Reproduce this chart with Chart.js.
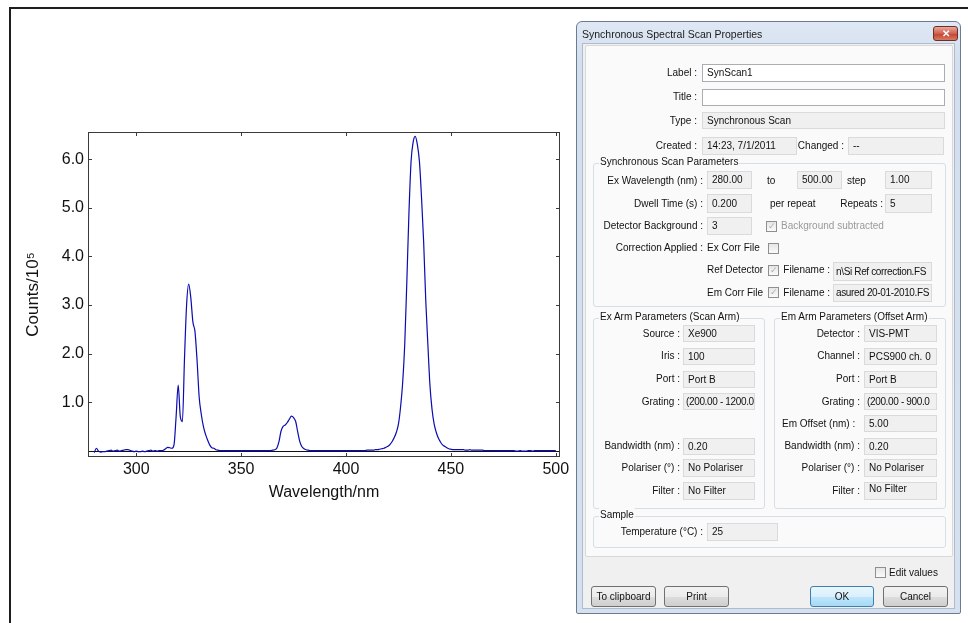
<!DOCTYPE html>
<html>
<head>
<meta charset="utf-8">
<title>Synchronous scan</title>
<script src="https://cdn.jsdelivr.net/npm/chart.js@4.4.1/dist/chart.umd.min.js"></script>
<style>
  body { margin: 0; width: 968px; height: 623px; overflow: hidden; position: relative; background: #fff;
         font-family: "Liberation Sans", Arial, sans-serif; }
  #frame { position: absolute; left: 9px; top: 7px; width: 960px; height: 640px;
           border-left: 2px solid #1e1e1e; border-top: 2px solid #1e1e1e; }
  #chartBox { position: absolute; left: 0; top: 0; width: 580px; height: 520px; }
  .dlg { position: absolute; left: 576px; top: 21px; width: 385px; height: 593px; box-sizing: border-box;
         background: linear-gradient(#dfe8f4, #d3dfee 40px, #d6e1ef); border: 1px solid #6c7c90;
         border-radius: 6px 6px 2px 2px; z-index: 2; }
  .ab { position: absolute; z-index: 3; white-space: nowrap; font-size: 10px; color: #111; }
  .txt { height: 14px; line-height: 14px; }
  .box { box-sizing: border-box; border: 1px solid #dadada; background: #f0f0f0; padding-left: 4px; overflow: hidden; }
  .edit { border-color: #abadb3; background: #fff; }
  .grp { box-sizing: border-box; border: 1px solid #d5dfe5; border-radius: 3px; }
  .grpT { background: #fafafa; padding: 0 1px; }
  .chk { box-sizing: border-box; width: 11px; height: 11px; border: 1px solid #8e8f8f;
         background: linear-gradient(#e6e6e6, #fafafa); font-size: 9px; line-height: 9px; text-align: center; color: #b0b0b0; }
  .btn { box-sizing: border-box; border: 1px solid #707070; border-radius: 3px; text-align: center;
         background: linear-gradient(#f2f2f2, #ebebeb 50%, #dddddd 51%, #cfcfcf); }
  .ok { border-color: #3c7fb1; background: linear-gradient(#eaf6fd, #d9f0fc 50%, #bee6fd 51%, #a7d9f5); }
</style>
</head>
<body>
<div id="frame"></div>
<div id="chartBox"><canvas id="spectrum"></canvas></div>
<div class="dlg"></div>
<div id="dialog"></div>

<script>
// ---- spectrum data (counts / 10^5), one value per nm from 280 to 500 ----
const startNm = 280;
const stepNm = 1;
const counts = [
  -0.04, 0.05, -0.01, -0.03, -0.02, -0.02, -0.01, 0.00, 0.01, -0.01,   // 280
  0.00, 0.01, -0.01, 0.00, 0.01, 0.02, 0.02, 0.01, -0.01, -0.02,       // 290
  -0.01, -0.02, -0.02, -0.01, -0.02, -0.01, 0.00, 0.01, -0.01, 0.00,   // 300
  -0.01, 0.00, 0.00, 0.01, 0.04, 0.07, 0.06, 0.05, 0.12, 0.70,         // 310
  1.35, 0.70, 0.60, 1.90, 3.00, 3.43, 3.15, 2.65, 2.45, 1.85,          // 320
  1.10, 0.75, 0.50, 0.34, 0.22, 0.12, 0.06, 0.05, 0.02, 0.01,          // 330
  0, 0, 0, 0, 0, 0, 0, 0, 0, 0,                                        // 340
  0, 0, 0, 0, 0, 0, 0, 0, 0, 0,                                        // 350
  0, 0, 0, 0, 0, 0.01, 0.02, 0.05, 0.18, 0.40,                         // 360
  0.50, 0.53, 0.58, 0.65, 0.71, 0.68, 0.60, 0.38, 0.18, 0.08,          // 370
  0.04, 0.02, 0.01, 0, 0, 0, 0, 0, 0, 0,                               // 380
  0, 0, 0, 0, 0, 0, 0, 0, 0, 0,                                        // 390
  0, 0, 0, 0, 0, 0, 0, 0, 0, 0,                                        // 400
  0.01, 0.01, 0.01, 0.01, 0.02, 0.02, 0.03, 0.04, 0.05, 0.07,          // 410
  0.09, 0.13, 0.19, 0.27, 0.38, 0.55, 0.90, 1.40, 2.20, 3.50,          // 420
  4.90, 5.95, 6.35, 6.47, 6.30, 5.95, 5.20, 4.30, 3.10, 2.20,          // 430
  1.35, 0.85, 0.55, 0.38, 0.26, 0.18, 0.12, 0.09, 0.06, 0.04,          // 440
  0.03, 0.02, 0.02, 0.02, 0.02, 0.02, 0.02, 0.01, 0.01, 0.02,          // 450
  0.01, 0.01, 0.01, 0.01, 0.01, 0.01, 0, 0, 0, 0,                      // 460
  0, 0, 0, 0, 0, 0, 0, 0, 0, 0,                                        // 470
  0, -0.01, -0.01, 0, -0.01, -0.01, -0.01, 0, 0, -0.01,                // 480
  0, 0, 0, 0, 0, 0, 0, 0, 0, 0,                                        // 490
  0                                                                    // 500
];
const xTicks = [300, 350, 400, 450, 500];
const yTicks = [1, 2, 3, 4, 5, 6];
const xRange = [277, 502];
const yRange = [-0.13, 6.56];

const points = counts.map((v, i) => ({ x: startNm + i * stepNm, y: v }));

// frame, inward ticks on all four sides, and the zero line
const frameTicks = {
  id: 'frameTicks',
  beforeDatasetsDraw(chart) {
    const { ctx, chartArea: a, scales: { y } } = chart;
    const py = Math.round(y.getPixelForValue(0)) + 0.5;
    ctx.save();
    ctx.strokeStyle = '#111';
    ctx.lineWidth = 1;
    ctx.beginPath();
    ctx.moveTo(a.left, py);
    ctx.lineTo(a.right, py);
    ctx.stroke();
    ctx.restore();
  },
  afterDatasetsDraw(chart) {
    const { ctx, chartArea: a, scales: { x, y } } = chart;
    ctx.save();
    ctx.strokeStyle = '#3a3a3a';
    ctx.lineWidth = 1;
    ctx.strokeRect(a.left + 0.5, a.top + 0.5, a.width - 1, a.height - 1);
    ctx.beginPath();
    xTicks.forEach(v => {
      const px = Math.round(x.getPixelForValue(v)) + 0.5;
      ctx.moveTo(px, a.bottom); ctx.lineTo(px, a.bottom - 4);
      ctx.moveTo(px, a.top); ctx.lineTo(px, a.top + 4);
    });
    yTicks.forEach(v => {
      const py = Math.round(y.getPixelForValue(v)) + 0.5;
      ctx.moveTo(a.left, py); ctx.lineTo(a.left + 4, py);
      ctx.moveTo(a.right, py); ctx.lineTo(a.right - 4, py);
    });
    ctx.stroke();
    ctx.restore();
  }
};

const config_spectrum = {
  type: 'line',
  data: {
    datasets: [
      {
        label: 'SynScan1',
        borderColor: '#0b0bb0',
        borderWidth: 1.2,
        pointRadius: 0,
        cubicInterpolationMode: 'monotone',
        fill: false,
        data: points
      }
    ]
  },
  options: {
    responsive: true,
    maintainAspectRatio: false,
    animation: false,
    layout: { padding: { top: 132, right: 20, left: 0, bottom: 0 } },
    plugins: { legend: { display: false }, tooltip: { enabled: false } },
    scales: {
      x: {
        type: 'linear',
        min: xRange[0],
        max: xRange[1],
        grid: { display: false, drawTicks: false },
        border: { display: false },
        afterBuildTicks: s => { s.ticks = xTicks.map(v => ({ value: v })); },
        afterFit: s => { s.height = 63; },
        ticks: { padding: 3, color: '#111', font: { family: 'Liberation Sans', size: 16 } },
        title: {
          display: true,
          text: 'Wavelength/nm',
          color: '#111',
          padding: { bottom: 18, top: 0 },
          font: { family: 'Liberation Sans', size: 16 }
        }
      },
      y: {
        min: yRange[0],
        max: yRange[1],
        grid: { display: false, drawTicks: false },
        border: { display: false },
        afterBuildTicks: s => { s.ticks = yTicks.map(v => ({ value: v })); },
        afterFit: s => { s.width = 88; },
        ticks: {
          padding: 4, color: '#111', font: { family: 'Liberation Sans', size: 16 },
          callback: v => v.toFixed(1)
        },
        title: {
          display: true,
          text: 'Counts/10\u2075',
          color: '#111',
          padding: { top: 23, bottom: 0 },
          font: { family: 'Liberation Sans', size: 17 }
        }
      }
    }
  },
  plugins: [frameTicks]
};

const ChartSpectrum = new Chart(document.getElementById('spectrum'), config_spectrum);

// ---- the properties dialog next to the plot ----
const dlg = document.getElementById('dialog');
function el(cls, x, y, w, h, text, style) {
  const d = document.createElement('div');
  d.className = 'ab ' + cls;
  d.style.left = x + 'px'; d.style.top = y + 'px';
  if (w != null) d.style.width = w + 'px';
  if (h != null) { d.style.height = h + 'px'; d.style.lineHeight = (h - 2) + 'px'; }
  if (text != null) d.textContent = text;
  if (style) Object.assign(d.style, style);
  dlg.appendChild(d);
  return d;
}
// text centred on cy; right=true puts the right edge at x
function txt(x, cy, t, right, style) {
  const d = el('txt', right ? x - 200 : x, cy - 7, right ? 200 : null, null, t, style);
  d.style.height = '14px'; d.style.lineHeight = '14px';
  if (right) d.style.textAlign = 'right';
  return d;
}
function box(x1, y1, x2, y2, t, edit, style) {
  return el('box' + (edit ? ' edit' : ''), x1, y1, x2 - x1, y2 - y1, t, style);
}
function chk(x, y, checked) {
  return el('chk', x, y, null, null, checked ? '\u2713' : '');
}
function grp(x1, y1, x2, y2, t) {
  el('grp', x1, y1 + 6, x2 - x1, y2 - y1 - 6);
  txt(x1 + 6, y1 + 5, t, false).classList.add('grpT');
}
const narrow = { letterSpacing: '-0.35px', paddingLeft: '2px' };

// window chrome
txt(582, 34, 'Synchronous Spectral Scan Properties', false, { fontSize: '10.5px', color: '#1a1a1a' });
el('', 933, 26, 25, 15, '\u2715', {
  boxSizing: 'border-box', border: '1px solid #6b2f2a', borderRadius: '3px',
  background: 'linear-gradient(#e9a99b, #d0604f 50%, #c2412e 51%, #d77a63)',
  color: '#fff', fontSize: '10px', fontWeight: 'bold', textAlign: 'center'
});
el('', 582, 43, 373, 566, null, { boxSizing: 'border-box', background: '#f0f0f0', border: '1px solid #aebccd' });
el('', 585, 45, 368, 512, null, { boxSizing: 'border-box', background: '#fafafa', border: '1px solid #d9d9d9', borderRadius: '2px' });

// header fields
txt(697, 72.5, 'Label :', true);       box(702, 64, 945, 82, 'SynScan1', true);
txt(697, 97, 'Title :', true);         box(702, 89, 945, 106, '', true);
txt(697, 121, 'Type :', true);         box(702, 112, 945, 129, 'Synchronous Scan');
txt(697, 146, 'Created :', true);      box(702, 137, 797, 155, '14:23, 7/1/2011');
txt(844, 146, 'Changed :', true);      box(848, 137, 944, 155, '--');

// synchronous scan parameters
grp(593, 157, 946, 307, 'Synchronous Scan Parameters');
txt(703, 180.5, 'Ex Wavelength (nm) :', true); box(707, 171, 752, 189, '280.00');
txt(767, 180.5, 'to', false);                  box(797, 171, 842, 189, '500.00');
txt(847, 180.5, 'step', false);                box(885, 171, 932, 189, '1.00');
txt(703, 203.5, 'Dwell Time (s) :', true);     box(707, 194, 752, 213, '0.200');
txt(770, 203.5, 'per repeat', false);
txt(883, 203.5, 'Repeats :', true);            box(885, 194, 932, 213, '5');
txt(703, 226, 'Detector Background :', true);  box(707, 217, 752, 235, '3');
chk(766, 221, true);
txt(781, 226, 'Background subtracted', false, { color: '#9a9a9a' });
txt(703, 248, 'Correction Applied :', true);
txt(707, 248, 'Ex Corr File', false);          chk(768, 243, false);
txt(707, 270, 'Ref Detector', false);          chk(768, 265, true);
txt(830, 270, 'Filename :', true);             box(833, 262, 932, 281, 'n\\Si Ref correction.FS', false, narrow);
txt(707, 292.5, 'Em Corr File', false);        chk(768, 287, true);
txt(830, 292.5, 'Filename :', true);           box(833, 284, 932, 302, 'asured 20-01-2010.FS', false, narrow);

// excitation arm
grp(593, 312, 765, 509, 'Ex Arm Parameters (Scan Arm)');
txt(680, 333.5, 'Source :', true);             box(683, 325, 755, 342, 'Xe900');
txt(680, 356, 'Iris :', true);                 box(683, 348, 755, 365, '100');
txt(680, 379, 'Port :', true);                 box(683, 371, 755, 388, 'Port B');
txt(680, 401.5, 'Grating :', true);            box(683, 393, 755, 410, '(200.00 - 1200.0', false, narrow);
txt(680, 446, 'Bandwidth (nm) :', true);       box(683, 438, 755, 455, '0.20');
txt(680, 468, 'Polariser (\u00b0) :', true);   box(683, 459, 755, 477, 'No Polariser');
txt(680, 491, 'Filter :', true);               box(683, 482, 755, 500, 'No Filter');

// emission arm
grp(774, 312, 946, 509, 'Em Arm Parameters (Offset Arm)');
txt(860, 333.5, 'Detector :', true);           box(864, 325, 937, 342, 'VIS-PMT');
txt(860, 356, 'Channel :', true);              box(864, 348, 937, 365, 'PCS900 ch. 0');
txt(860, 379, 'Port :', true);                 box(864, 371, 937, 388, 'Port B');
txt(860, 401.5, 'Grating :', true);            box(864, 393, 937, 410, '(200.00 - 900.0', false, narrow);
txt(782, 423.5, 'Em Offset (nm) :', false);    box(864, 415, 937, 432, '5.00');
txt(860, 446, 'Bandwidth (nm) :', true);       box(864, 438, 937, 455, '0.20');
txt(860, 468, 'Polariser (\u00b0) :', true);   box(864, 459, 937, 477, 'No Polariser');
txt(860, 491, 'Filter :', true);               box(864, 482, 937, 500, 'No Filter', false, { lineHeight: '12px' });

// sample
grp(593, 510, 946, 548, 'Sample');
txt(703, 532, 'Temperature (\u00b0C) :', true); box(707, 523, 778, 541, '25');

// bottom controls
chk(875, 567, false);
txt(889, 572.5, 'Edit values', false);
el('btn', 591, 586, 65, 21, 'To clipboard');
el('btn', 664, 586, 65, 21, 'Print');
el('btn ok', 810, 586, 64, 21, 'OK');
el('btn', 883, 586, 65, 21, 'Cancel');
</script>
</body>
</html>
